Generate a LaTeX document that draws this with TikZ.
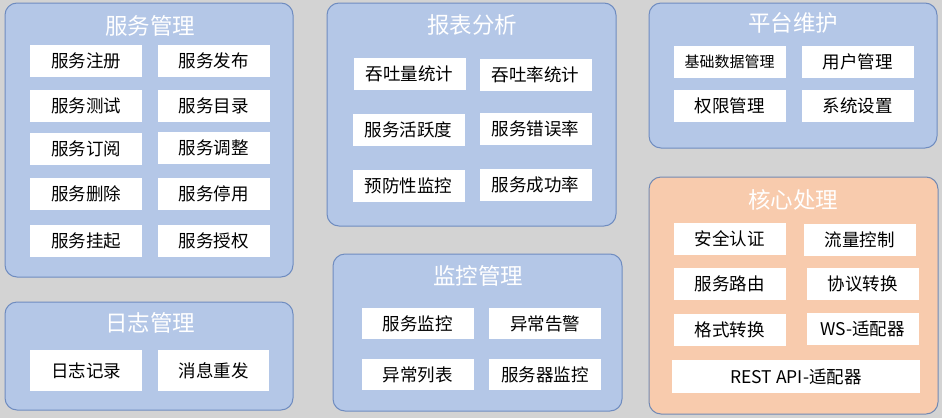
\documentclass[tikz,border=0pt]{standalone}
\usepackage{fontspec}
\setmainfont{Noto Sans CJK SC}
\definecolor{bggray}{HTML}{D3D3D3}
\definecolor{panelblue}{HTML}{B4C7E7}
\definecolor{panelorange}{HTML}{F8CBAD}
\definecolor{panelline}{HTML}{6F8CC0}
\tikzset{
	panel/.style={draw=panelline,line width=1pt,rounded corners=12pt,fill=panelblue},
	ptitle/.style={text=white,font=\fontsize{22.5}{26}\selectfont,inner sep=0pt},
	item/.style={fill=white,inner sep=0pt,minimum width=112pt,minimum height=32pt,font=\fontsize{17.5}{20}\selectfont},
}
\begin{document}
\begin{tikzpicture}[x=1pt,y=-1pt]
	\fill[bggray] (0,0) rectangle (942,418); %background
	\useasboundingbox (0,0) rectangle (942,418);
	% panels
	\draw[panel] (5,3) rectangle (293,277);
	\draw[panel] (5,302) rectangle (293,410);
	\draw[panel] (327,3) rectangle (616,226);
	\draw[panel] (333,254) rectangle (622,411);
	\draw[panel] (649,3) rectangle (937,148);
	\draw[panel,fill=panelorange,draw=panelline!80!gray] (649,177) rectangle (938,414);
	% titles
	\node[ptitle] (tfw) at (150,26) {服务管理};
	\node[ptitle] (trz) at (150,323) {日志管理};
	\node[ptitle] (tbb) at (472,25) {报表分析};
	\node[ptitle] (tjk) at (478,276) {监控管理};
	\node[ptitle] (tpt) at (793,23) {平台维护};
	\node[ptitle] (thx) at (793,200) {核心处理};
	% 服务管理
	\foreach \cx/\cy/\t [count=\i] in {86/61/服务注册,213.5/61/服务发布,86/105.5/服务测试,213.5/105.5/服务目录,
		86/149/服务订阅,213.5/148/服务调整,86/194/服务删除,213.5/194/服务停用,86/241/服务挂起,213.5/241/服务授权}
		{\node[item] (fw\i) at (\cx,\cy) {\t};}
	% 日志管理
	\node[item,minimum height=41pt] (rz1) at (86,370.5) {日志记录};
	\node[item,minimum height=41pt,minimum width=111pt] (rz2) at (213.5,370.5) {消息重发};
	% 报表分析
	\foreach \cx/\cy/\t [count=\i] in {409.5/74/吞吐量统计,535.5/75/吞吐率统计,408.5/130/服务活跃度,535.5/129/服务错误率,
		408.5/185.5/预防性监控,535.5/185/服务成功率}
		{\node[item] (bb\i) at (\cx,\cy) {\t};}
	% 监控管理
	\foreach \cx/\cy/\t [count=\i] in {417.5/323.5/服务监控,545/323.5/异常告警,417.5/374.5/异常列表,545/374.5/服务器监控}
		{\node[item,minimum height=31pt] (jk\i) at (\cx,\cy) {\t};}
	% 平台维护
	\node[item,font=\fontsize{15}{17}\selectfont] (pt1) at (729.5,61.5) {基础数据管理};
	\foreach \cx/\cy/\t [count=\i from 2] in {857.5/61.5/用户管理,729.5/106/权限管理,857.5/106/系统设置}
		{\node[item] (pt\i) at (\cx,\cy) {\t};}
	% 核心处理
	\foreach \cx/\cy/\t [count=\i] in {729.5/239/安全认证,859.5/240/流量控制,729.5/283.5/服务路由,862.5/283.5/协议转换,
		729.5/329.5/格式转换,862.5/329/WS-适配器}
		{\node[item] (hx\i) at (\cx,\cy) {\t};}
	\node[item,minimum width=248pt,minimum height=33pt] (hx7) at (796,376.5) {REST API-适配器};
\end{tikzpicture}
\end{document}
